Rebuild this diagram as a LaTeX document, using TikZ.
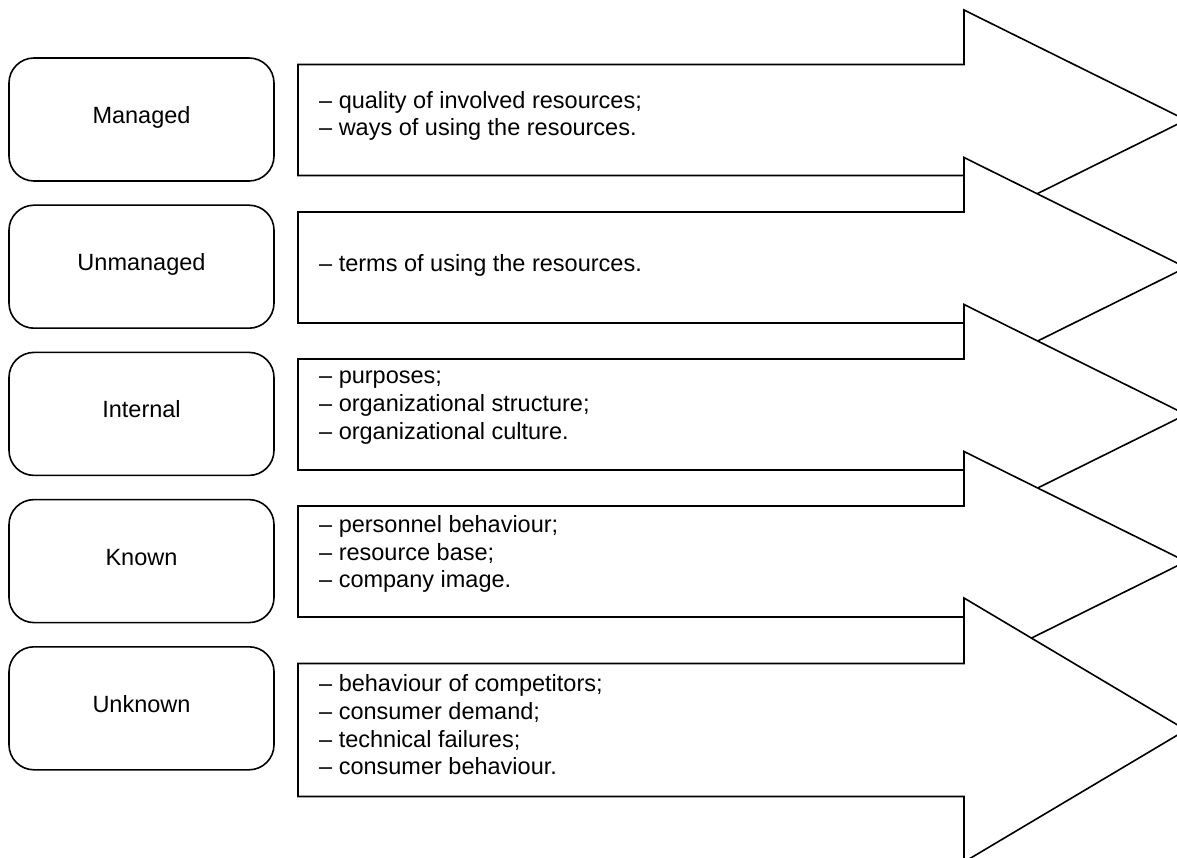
\documentclass[tikz,border=0pt]{standalone}
\usepackage{fontspec}
\setmainfont{Liberation Sans}
\begin{document}
\begin{tikzpicture}[x=1pt,y=-1pt,
  blockarrow/.style={draw=black, fill=white, line width=1.6pt, line join=miter},
  factor/.style={draw=black, fill=white, line width=1.6pt, rounded corners=25pt,
    minimum width=265pt, minimum height=123pt, inner sep=0pt,
    text height=17pt, text depth=9pt,
    font=\fontsize{23.5}{27.7}\selectfont},
  items/.style={anchor=west, align=left, inner sep=0pt,
    font=\fontsize{23.5}{27.7}\selectfont}]
\useasboundingbox (0,0) rectangle (1177,858);

% factor groups (left column)
\node[factor] (managed)   at (141.5,119.5) {Managed};
\node[factor] (unmanaged) at (141.5,266.7) {Unmanaged};
\node[factor] (internal)  at (141.5,413.9) {Internal};
\node[factor] (known)     at (141.5,561.1) {Known};
\node[factor] (unknown)   at (141.5,708.3) {Unknown};

% block arrows, each drawn over the head of the previous one
\draw[blockarrow] (298,64.5) -- (964,64.5) -- (964,10) -- (1186,120)
  -- (964,230) -- (964,175.5) -- (298,175.5) -- cycle;
\draw[blockarrow] (298,212) -- (964,212) -- (964,157.5) -- (1186,267.5)
  -- (964,377.5) -- (964,323) -- (298,323) -- cycle;
\draw[blockarrow] (298,359) -- (964,359) -- (964,304.5) -- (1186,414.5)
  -- (964,524.5) -- (964,470) -- (298,470) -- cycle;
\draw[blockarrow] (298,506) -- (964,506) -- (964,451.5) -- (1186,561.5)
  -- (964,671.5) -- (964,617) -- (298,617) -- cycle;
\draw[blockarrow] (298,663.5) -- (964,663.5) -- (964,598) -- (1186,730)
  -- (964,862) -- (964,796.5) -- (298,796.5) -- cycle;

% factor descriptions
\node[items] (managedlist) at (319,116)
  {– quality of involved resources;\\– ways of using the resources.};
\node[items] (unmanagedlist) at (319,265)
  {– terms of using the resources.};
\node[items] (internallist) at (319,407.5)
  {– purposes;\\– organizational structure;\\– organizational culture.};
\node[items] (knownlist) at (319,554)
  {– personnel behaviour;\\– resource base;\\– company image.};
\node[items] (unknownlist) at (319,725)
  {– behaviour of competitors;\\– consumer demand;\\– technical failures;\\– consumer behaviour.};
\end{tikzpicture}
\end{document}
